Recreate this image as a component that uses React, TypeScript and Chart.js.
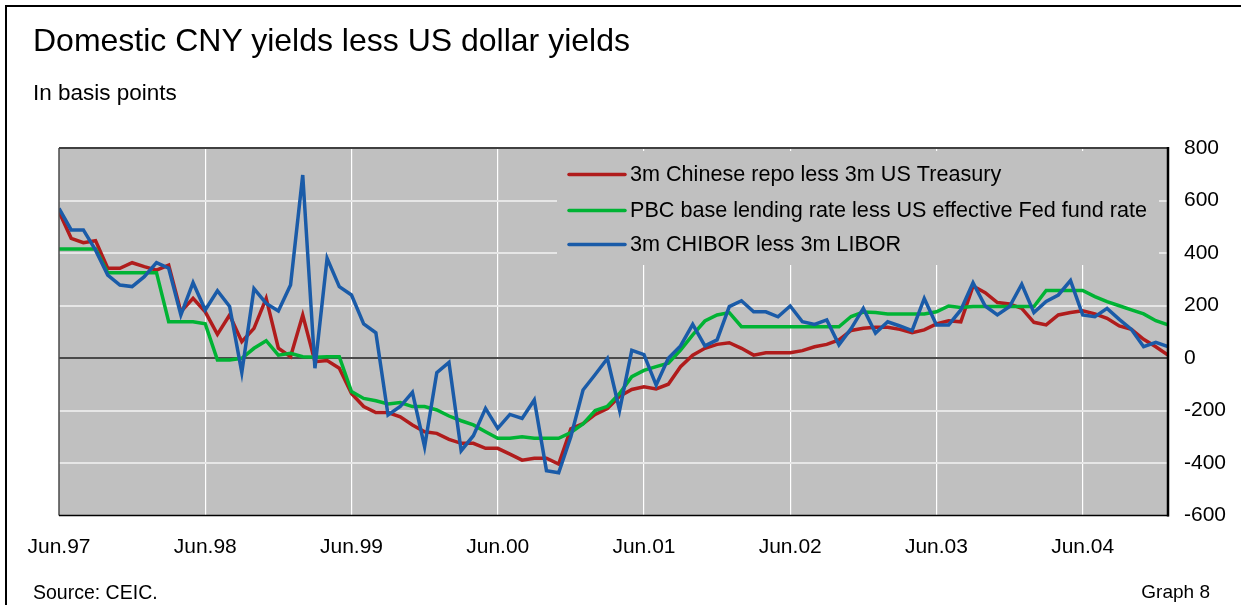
import React, { useEffect, useRef } from "react";
import { Chart, registerables } from "chart.js";

Chart.register(...registerables);

const FONT = '"Liberation Sans", Arial, Helvetica, sans-serif';

// Month index 0 = Jun.97, 91 = Jan.05
const xTickMonths = [0, 12, 24, 36, 48, 60, 72, 84];
const xTickLabels = ["Jun.97", "Jun.98", "Jun.99", "Jun.00", "Jun.01", "Jun.02", "Jun.03", "Jun.04"];
const yMin = -600;
const yMax = 800;
const yStep = 200;

const seriesLabels = [
  "3m Chinese repo less 3m US Treasury",
  "PBC base lending rate less US effective Fed fund rate",
  "3m CHIBOR less 3m LIBOR",
];
const seriesColors = ["#b01c1c", "#00b334", "#1a5ba8"];

const repoSpread = [
  557, 456, 439, 447, 342, 342, 363, 348, 335, 354,
  176, 227, 176, 90, 164, 62, 113, 227, 37, 5,
  164, -14, -10, -39, -135, -185, -208, -208, -224, -255,
  -281, -287, -310, -325, -325, -344, -344, -366, -389, -382,
  -382, -404, -270, -250, -215, -193, -146, -120, -110, -118,
  -100, -33, 11, 37, 52, 58, 37, 11, 20, 20,
  20, 28, 43, 52, 69, 105, 113, 117, 117, 109,
  96, 107, 130, 142, 138, 274, 249, 211, 206, 189,
  136, 126, 164, 173, 180, 168, 151, 122, 109, 71,
  43, 11,
];

const baseRateSpread = [
  415, 415, 415, 415, 325, 325, 325, 325, 325, 138,
  138, 138, 130, -8, -8, -1, 37, 66, 11, 18,
  5, 3, 5, 5, -128, -154, -163, -175, -170, -185,
  -185, -198, -221, -239, -255, -281, -306, -306, -300, -306,
  -306, -306, -284, -251, -200, -184, -135, -71, -47, -33,
  -20, 30, 88, 141, 164, 173, 119, 119, 119, 119,
  119, 119, 119, 119, 119, 158, 175, 173, 168, 168,
  168, 168, 176, 198, 192, 196, 196, 196, 196, 196,
  196, 257, 257, 257, 257, 234, 215, 199, 183, 168,
  142, 126,
];

const chiborSpread = [
  570, 488, 488, 411, 316, 278, 272, 310, 363, 342,
  164, 287, 183, 256, 196, -55, 264, 208, 179, 278,
  697, -39, 380, 272, 240, 130, 96, -217, -185, -131,
  -338, -56, -17, -353, -296, -192, -268, -215, -230, -160,
  -429, -437, -300, -122, -63, -2, -199, 29, 13, -103,
  -1, 46, 128, 46, 69, 196, 218, 176, 176, 157,
  198, 138, 128, 145, 50, 112, 189, 95, 138, 122,
  104, 227, 126, 126, 183, 287, 198, 164, 196, 281,
  173, 215, 240, 295, 164, 157, 189, 147, 109, 43,
  60, 43,
];

const seriesValues = [repoSpread, baseRateSpread, chiborSpread];
const seriesOrder = [3, 2, 1];

export default function App() {
  const canvasRef = useRef<HTMLCanvasElement>(null);

  useEffect(() => {
    const canvas = canvasRef.current;
    if (!canvas) return;

    const decoPlugin = {
      id: "deco",
      beforeDraw(chart: any) {
        const { ctx, chartArea } = chart;
        ctx.save();
        ctx.fillStyle = "#c0c0c0";
        ctx.fillRect(chartArea.left, chartArea.top, chartArea.right - chartArea.left, chartArea.bottom - chartArea.top);
        ctx.restore();
      },
      beforeDatasetsDraw(chart: any) {
        const { ctx, chartArea } = chart;
        const x0 = chartArea.left + 498;
        const y0 = chartArea.top + 3;
        ctx.save();
        ctx.fillStyle = "#c0c0c0";
        ctx.fillRect(x0, y0, 602, 114);
        const rows = [26.5, 62.5, 96.5];
        chart.data.datasets.forEach((ds: any, i: number) => {
          const y = chartArea.top + rows[i];
          ctx.strokeStyle = ds.borderColor;
          ctx.lineWidth = 3.5;
          ctx.lineCap = "round";
          ctx.beginPath();
          ctx.moveTo(x0 + 12, y);
          ctx.lineTo(x0 + 68, y);
          ctx.stroke();
          ctx.fillStyle = "#000";
          ctx.font = `21.6px ${FONT}`;
          ctx.textBaseline = "middle";
          ctx.textAlign = "left";
          ctx.fillText(ds.label, x0 + 73, y + 1);
        });
        ctx.restore();
      },
      afterDraw(chart: any) {
        const { ctx, chartArea } = chart;
        const { left, right, top, bottom } = chartArea;
        ctx.save();
        ctx.lineCap = "butt";
        ctx.strokeStyle = "#4a4a4a";
        ctx.lineWidth = 1.5;
        ctx.beginPath();
        ctx.moveTo(left, top);
        ctx.lineTo(left, bottom);
        ctx.stroke();
        ctx.strokeStyle = "#404040";
        ctx.lineWidth = 2;
        ctx.beginPath();
        ctx.moveTo(left, top);
        ctx.lineTo(right, top);
        ctx.stroke();
        ctx.strokeStyle = "#000";
        ctx.lineWidth = 1.5;
        ctx.beginPath();
        ctx.moveTo(left, bottom);
        ctx.lineTo(right + 1, bottom);
        ctx.stroke();
        ctx.lineWidth = 2.5;
        ctx.beginPath();
        ctx.moveTo(right, top - 1);
        ctx.lineTo(right, bottom + 1);
        ctx.stroke();
        ctx.restore();
      },
    };

    const chart = new Chart(canvas, {
      type: "line",
      data: {
        datasets: seriesValues.map((vals, i) => ({
          label: seriesLabels[i],
          data: vals.map((v, m) => ({ x: m, y: v })),
          borderColor: seriesColors[i],
          backgroundColor: seriesColors[i],
          borderWidth: 3.5,
          pointRadius: 0,
          pointHoverRadius: 0,
          tension: 0,
          fill: false,
          order: seriesOrder[i],
          borderJoinStyle: "miter" as const,
        })),
      },
      options: {
        responsive: false,
        animation: false,
        devicePixelRatio: 1,
        layout: { padding: { left: 59, top: 148, right: 0, bottom: 0 } },
        plugins: {
          legend: { display: false },
          tooltip: { enabled: false },
          title: { display: false },
        },
        events: [],
        scales: {
          x: {
            type: "linear",
            min: 0,
            max: repoSpread.length - 1,
            afterBuildTicks: (scale: any) => {
              scale.ticks = xTickMonths.map((v) => ({ value: v }));
            },
            afterFit: (scale: any) => {
              scale.height = 89.5;
            },
            ticks: {
              autoSkip: false,
              maxRotation: 0,
              padding: 19,
              color: "#000",
              font: { family: FONT, size: 21 },
              callback: (_v: any, index: number) => xTickLabels[index],
            },
            grid: {
              drawTicks: false,
              lineWidth: 1.2,
              color: (c: any) => (c.tick && c.tick.value === 0 ? "rgba(0,0,0,0)" : "#ffffff"),
            },
            border: { display: false },
          },
          y: {
            position: "right",
            min: yMin,
            max: yMax,
            afterFit: (scale: any) => {
              scale.width = 73;
            },
            ticks: {
              stepSize: yStep,
              padding: 16,
              color: "#000",
              font: { family: FONT, size: 21 },
            },
            grid: {
              drawTicks: false,
              lineWidth: 2,
              color: (c: any) => {
                const v = c.tick ? c.tick.value : null;
                if (v === 0) return "#4a4a4a";
                if (v === yMin || v === yMax) return "rgba(0,0,0,0)";
                return "#e6e6e6";
              },
            },
            border: { display: false },
          },
        },
      },
      plugins: [decoPlugin],
    } as any);

    return () => chart.destroy();
  }, []);

  return (
    <div
      style={{
        position: "fixed",
        left: 0,
        top: 0,
        width: 1241,
        height: 605,
        overflow: "hidden",
        background: "#fff",
        fontFamily: FONT,
        color: "#000",
      }}
    >
      <div
        style={{
          position: "absolute",
          left: 5,
          top: 5,
          width: 1300,
          height: 700,
          border: "2px solid #000",
          boxSizing: "border-box",
        }}
      />
      <canvas
        ref={canvasRef}
        width={1241}
        height={605}
        style={{ position: "absolute", left: 0, top: 0, width: 1241, height: 605 }}
      />
      <div style={{ position: "absolute", left: 33, top: 24, fontSize: 32, lineHeight: "32px", whiteSpace: "nowrap" }}>
        Domestic CNY yields less US dollar yields
      </div>
      <div style={{ position: "absolute", left: 33, top: 82, fontSize: 22.5, lineHeight: "22px", whiteSpace: "nowrap" }}>
        In basis points
      </div>
      <div style={{ position: "absolute", left: 33, top: 582, fontSize: 19.5, lineHeight: "20px", whiteSpace: "nowrap" }}>
        Source: CEIC.
      </div>
      <div style={{ position: "absolute", right: 31, top: 582, fontSize: 19, lineHeight: "20px", whiteSpace: "nowrap" }}>
        Graph 8
      </div>
    </div>
  );
}
